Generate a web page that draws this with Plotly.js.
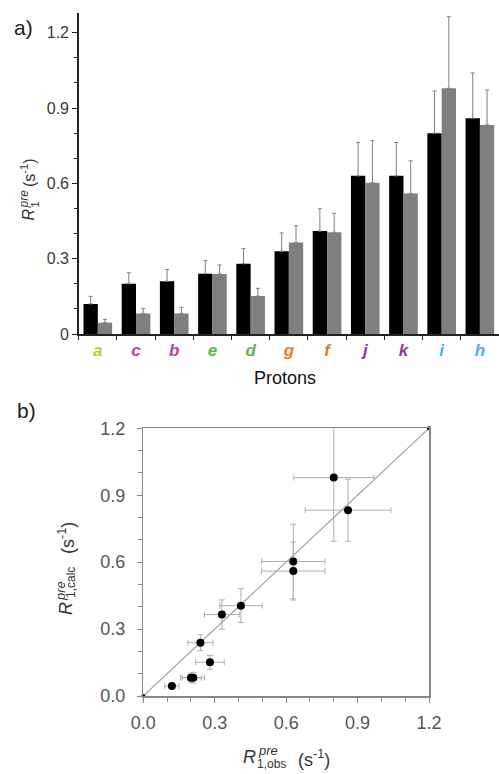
<!DOCTYPE html>
<html>
<head>
<meta charset="utf-8">
<script src="https://cdn.plot.ly/plotly-3.0.1.min.js"></script>
<style>html,body{margin:0;padding:0;background:#fff;}#chart{width:499px;height:774px;}</style>
</head>
<body>
<div id="chart"></div>
<script>
// Data
const protons = ['a','c','b','e','d','g','f','j','k','i','h'];
const protonColors = ['#c9c23a','#c2409a','#c2409a','#5ab848','#5ab848','#e8782a','#e8782a','#8b3a9e','#8b3a9e','#4aaee0','#4aaee0'];
const r1Obs = [0.12,0.20,0.21,0.24,0.28,0.33,0.41,0.63,0.63,0.80,0.86];
const r1ObsErr = [0.03,0.044,0.047,0.053,0.06,0.073,0.089,0.133,0.133,0.168,0.18];
const r1Calc = [0.045,0.082,0.082,0.239,0.151,0.365,0.405,0.603,0.56,0.979,0.833];
const r1CalcErr = [0.013,0.02,0.024,0.036,0.031,0.066,0.076,0.167,0.13,0.285,0.139];
const diagLine = [0, 1.2];
const topTicks = [0, 0.3, 0.6, 0.9, 1.2];
const topTickText = ['0', '0.3', '0.6', '0.9', '1.2'];
const botTickText = ['0.0', '0.3', '0.6', '0.9', '1.2'];

const W = 499, H = 774;
const px = v => v / W;
const py = v => 1 - v / H;

const zeros = protons.map(() => 0);
const tickText = protons.map((p, i) => `<span style="color:${protonColors[i]}"><b><i>${p}</i></b></span>`);

const barErrStyle = {type:'data', symmetric:false, arrayminus:zeros, color:'#8a7c7c', thickness:1, width:2};

const traces = [
  {type:'bar', x:protons, y:r1Obs, xaxis:'x', yaxis:'y', marker:{color:'#000000'},
   error_y:Object.assign({array:r1ObsErr}, barErrStyle), showlegend:false},
  {type:'bar', x:protons, y:r1Calc, xaxis:'x', yaxis:'y', marker:{color:'#7f7f7f'},
   error_y:Object.assign({array:r1CalcErr}, barErrStyle), showlegend:false},
  {type:'scatter', mode:'lines+markers', x:diagLine, y:diagLine, xaxis:'x2', yaxis:'y2',
   line:{color:'#a89e9e', width:1.2}, marker:{color:'#000', size:4}, cliponaxis:false, showlegend:false},
  {type:'scatter', mode:'markers', x:r1Obs, y:r1Calc, xaxis:'x2', yaxis:'y2',
   marker:{color:'#000', size:8},
   error_x:{type:'data', array:r1ObsErr, color:'#b8acac', thickness:1, width:3},
   error_y:{type:'data', array:r1CalcErr, color:'#b8acac', thickness:1, width:3},
   showlegend:false}
];

const font = 'Liberation Sans, Arial, sans-serif';
function ann(text, x, y, size, opts) {
  return Object.assign({text:text, xref:'paper', yref:'paper', x:px(x), y:py(y),
    xanchor:'center', yanchor:'middle', showarrow:false, borderpad:0,
    font:{size:size, family:font, color:'#222'}}, opts || {});
}

const layout = {
  width:W, height:H,
  margin:{l:0, r:0, t:0, b:0},
  paper_bgcolor:'#fff', plot_bgcolor:'#fff',
  font:{family:font, color:'#222'},
  barmode:'group', bargap:0.25, bargroupgap:0,
  xaxis:{domain:[px(78.7), 1], anchor:'y', type:'category',
    tickmode:'array', tickvals:protons, ticktext:tickText,
    tickson:'boundaries', ticks:'outside', ticklen:4, tickcolor:'#222',
    showline:true, linecolor:'#222', linewidth:1.5, showgrid:false, zeroline:false,
    tickfont:{size:17, family:font},
    range:[-0.5, 10.5]},
  yaxis:{domain:[py(334), py(12.7)], anchor:'x', range:[0, 1.28],
    tickmode:'array', tickvals:topTicks, ticktext:topTickText,
    ticks:'outside', ticklen:5, tickcolor:'#222',
    minor:{dtick:0.1, tick0:0, ticks:'outside', ticklen:3, tickcolor:'#222'},
    showline:true, linecolor:'#222', linewidth:1.5, showgrid:false, zeroline:false,
    tickfont:{size:16, family:font, color:'#3a3a3a'}},
  xaxis2:{domain:[px(143.3), px(429)], anchor:'y2', range:[0, 1.2],
    tickmode:'array', tickvals:topTicks, ticktext:botTickText,
    ticks:'outside', ticklen:5, tickcolor:'#888', ticklabelstandoff:5,
    minor:{dtick:0.1, tick0:0, ticks:'outside', ticklen:4, tickcolor:'#888'},
    showline:true, mirror:true, linecolor:'#888', linewidth:1.5, showgrid:false, zeroline:false,
    tickfont:{size:18, family:font, color:'#555'}},
  yaxis2:{domain:[py(696), py(428.3)], anchor:'x2', range:[0, 1.2],
    tickmode:'array', tickvals:topTicks, ticktext:botTickText,
    ticks:'outside', ticklen:5, tickcolor:'#888', ticklabelstandoff:8,
    minor:{dtick:0.1, tick0:0, ticks:'outside', ticklen:4, tickcolor:'#888'},
    showline:true, mirror:true, linecolor:'#888', linewidth:1.5, showgrid:false, zeroline:false,
    tickfont:{size:18, family:font, color:'#555'}},
  annotations:[
    ann('a)', 23.5, 28, 21, {}),
    ann('b)', 26, 410, 21, {}),
    ann('Protons', 285, 378, 18, {font:{size:18, family:font, color:'#111'}}),
    // top y title: R_1^pre (s^-1)
    ann('<i>R</i>', 27.5, 215, 16, {textangle:-90, font:{size:16, family:font, color:'#333'}}),
    ann('1', 34.5, 205, 11, {textangle:-90, font:{size:11, family:font, color:'#333'}}),
    ann('<i>pre</i>', 23.5, 199, 12, {textangle:-90, font:{size:12, family:font, color:'#333'}}),
    ann('(s<sup>-1</sup>)', 28, 173, 16, {textangle:-90, font:{size:16, family:font, color:'#333'}}),
    // bottom y title: R_1,calc^pre (s^-1)
    ann('<i>R</i>', 65.5, 608.5, 18, {textangle:-90, font:{size:18, family:font, color:'#333'}}),
    ann('<i>pre</i>', 60, 591, 13, {textangle:-90, font:{size:13, family:font, color:'#333'}}),
    ann('1,calc', 70.5, 582.5, 12, {textangle:-90, font:{size:12, family:font, color:'#333'}}),
    ann('(s<sup>-1</sup>)', 66, 538, 18, {textangle:-90, font:{size:18, family:font, color:'#333'}}),
    // bottom x title: R_1,obs^pre (s^-1)
    ann('<i>R</i>', 249, 756.5, 18, {font:{size:18, family:font, color:'#333'}}),
    ann('<i>pre</i>', 268, 750, 13, {font:{size:13, family:font, color:'#333'}}),
    ann('1,obs', 271, 764, 12, {font:{size:12, family:font, color:'#333'}}),
    ann('(s<sup>-1</sup>)', 313.5, 758.5, 18, {font:{size:18, family:font, color:'#333'}})
  ]
};

Plotly.newPlot('chart', traces, layout, {displayModeBar:false, staticPlot:true});
</script>
</body>
</html>
